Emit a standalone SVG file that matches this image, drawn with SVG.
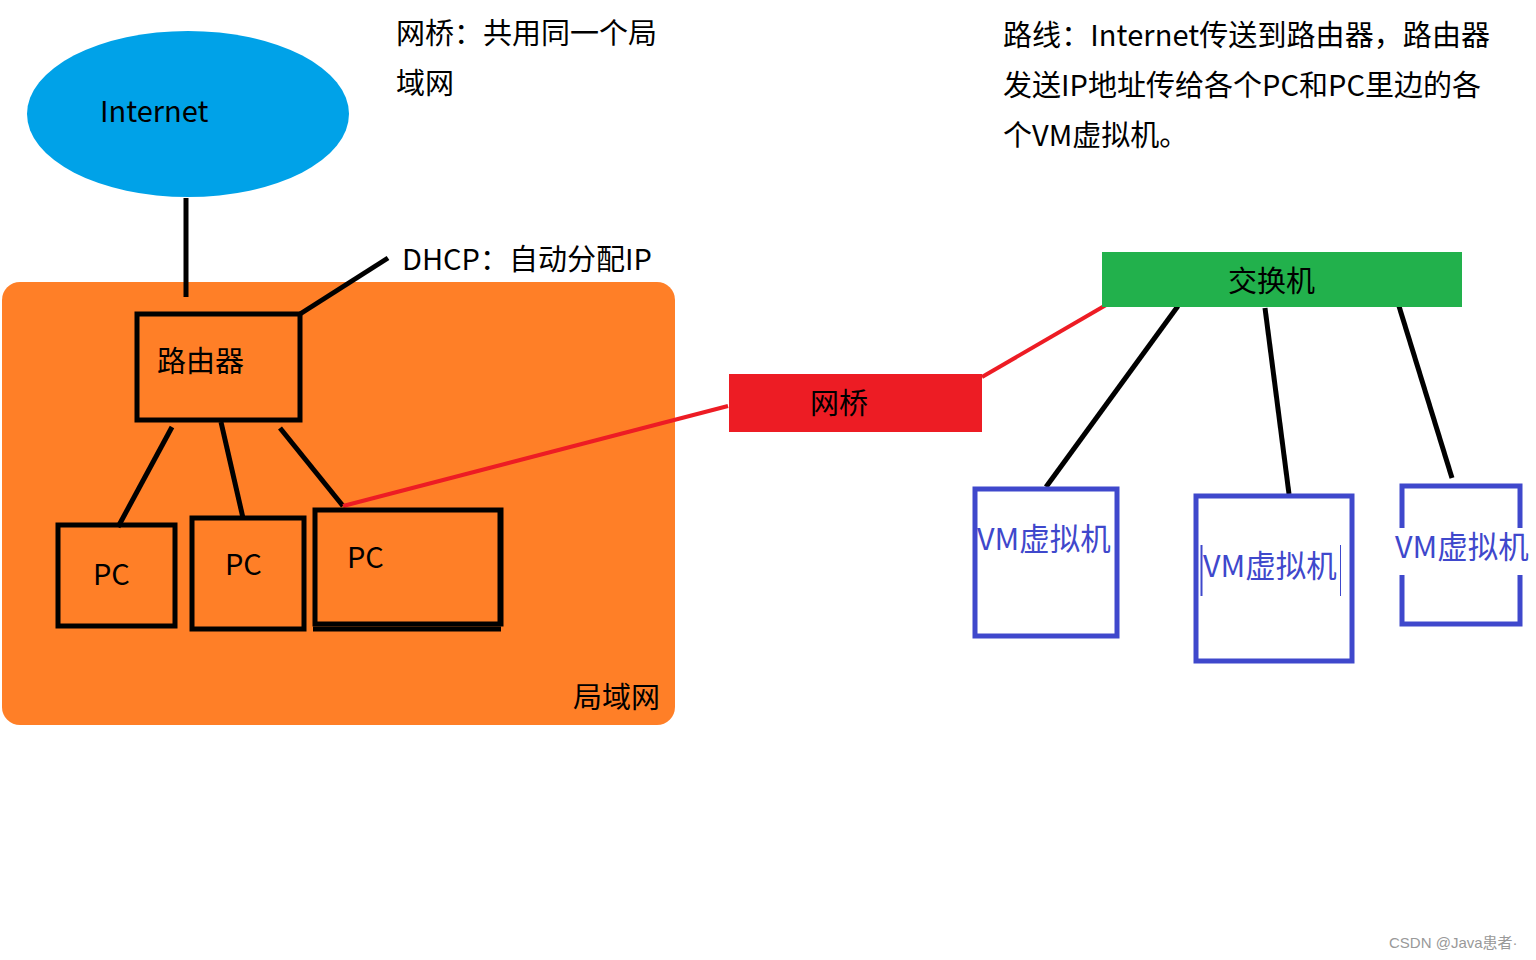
<svg xmlns="http://www.w3.org/2000/svg" width="1536" height="960" viewBox="0 0 1536 960">
<style>
text{font-family:"Noto Sans CJK SC","Noto Sans",sans-serif;font-size:29px;fill:#000}
.blk{stroke:#000;stroke-width:5;fill:none}
.red{stroke:#ED1C24;stroke-width:4;fill:none}
.box{stroke:#000;stroke-width:5;fill:none}
.vm{stroke:#3F48CC;stroke-width:5;fill:#fff}
.vmt{fill:#3F48CC;font-size:30.5px}
</style>
<rect width="1536" height="960" fill="#fff"/>
<g id="lan">
<rect x="2" y="282" width="673" height="443" rx="18" fill="#FF7F27"/>
<text x="573" y="708">局域网</text>
</g>
<g id="internet">
<ellipse cx="188" cy="114" rx="161" ry="83" fill="#00A2E8"/>
<text x="100" y="122">Internet</text>
</g>
<g id="note-bridge">
<text x="396" y="44">网桥：共用同一个局</text>
<text x="396" y="94">域网</text>
</g>
<g id="note-route">
<text x="1003" y="46" textLength="487">路线：Internet传送到路由器，路由器</text>
<text x="1003" y="96" textLength="478">发送IP地址传给各个PC和PC里边的各</text>
<text x="1003" y="146">个VM虚拟机。</text>
</g>
<g id="connectors">
<line class="blk" x1="186" y1="198" x2="186" y2="297"/>
<line class="blk" x1="300" y1="314" x2="388" y2="258"/>
<line class="blk" x1="172" y1="427" x2="118" y2="527"/>
<line class="blk" x1="221" y1="422" x2="243" y2="518"/>
<line class="blk" x1="280" y1="428" x2="343" y2="506"/>
<line class="red" x1="343" y1="506" x2="728" y2="406"/>
<line class="red" x1="982" y1="377" x2="1106" y2="305"/>
<line class="blk" x1="1178" y1="306" x2="1046" y2="487"/>
<line class="blk" x1="1265" y1="308" x2="1289" y2="494"/>
<line class="blk" x1="1398" y1="303" x2="1452" y2="478"/>
</g>
<g id="dhcp">
<text x="402" y="270">DHCP：自动分配IP</text>
</g>
<g id="router">
<rect class="box" x="137" y="314" width="163" height="106"/>
<text x="157" y="372">路由器</text>
</g>
<g id="pc1">
<rect class="box" x="58" y="525" width="117" height="101"/>
<text x="93" y="585">PC</text>
</g>
<g id="pc2">
<rect class="box" x="192" y="518" width="112" height="111"/>
<text x="225" y="575">PC</text>
</g>
<g id="pc3">
<rect class="box" x="315" y="510" width="186" height="114"/>
<line class="blk" x1="500" y1="510" x2="500" y2="626" stroke-width="7"/>
<line class="blk" x1="313" y1="629" x2="501" y2="629" stroke-width="4"/>
<text x="347" y="568">PC</text>
</g>
<g id="bridge">
<rect x="729" y="374" width="253" height="58" fill="#ED1C24"/>
<text x="810" y="414">网桥</text>
</g>
<g id="switch">
<rect x="1102" y="252" width="360" height="55" fill="#22B14C"/>
<text x="1228" y="292">交换机</text>
</g>
<g id="vm1">
<rect class="vm" x="975" y="489" width="142" height="147"/>
<text class="vmt" x="977" y="550">VM虚拟机</text>
</g>
<g id="vm2">
<rect class="vm" x="1196" y="496" width="156" height="165"/>
<line x1="1201.5" y1="545" x2="1201.5" y2="596" stroke="#3F48CC" stroke-width="2"/>
<line x1="1340.5" y1="545" x2="1340.5" y2="596" stroke="#3F48CC" stroke-width="1"/>
<text class="vmt" x="1203" y="577">VM虚拟机</text>
</g>
<g id="vm3">
<rect class="vm" x="1402" y="486" width="118" height="138"/>
<rect x="1398" y="528" width="130" height="47" fill="#fff"/>
<text class="vmt" x="1395" y="558">VM虚拟机</text>
</g>
<g id="watermark">
<text x="1389" y="948" style="font-family:'Liberation Sans','Noto Sans CJK SC',sans-serif;font-size:15px;fill:#999">CSDN @Java患者·</text>
</g>
</svg>
